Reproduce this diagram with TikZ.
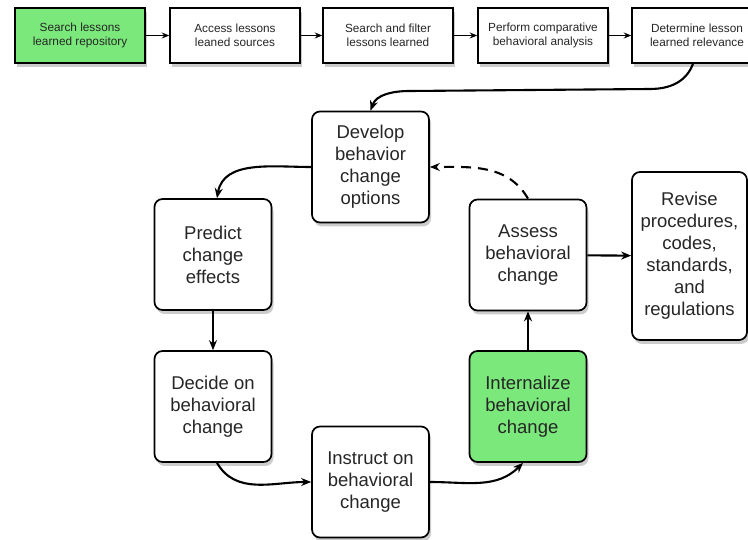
\documentclass[tikz,border=0pt]{standalone}
\usepackage{fontspec}
\setmainfont{Liberation Sans}
\usepackage{tikz}
\usetikzlibrary{
	positioning,
	arrows.meta,
	shadows
}
\definecolor{leafgreen}{RGB}{122,232,122}

\begin{document}
\begin{tikzpicture}[
		x=1pt, y=1pt,
		stage/.style={draw, line width=1.5pt, fill=white, text=black!85, align=center,
			minimum width=130pt, minimum height=55pt, inner sep=0pt,
			font=\fontsize{11.8}{14}\selectfont,
			drop shadow={shadow xshift=2pt, shadow yshift=-4pt, opacity=.4}},
		act/.style={stage, rounded corners=8pt, line width=1.7pt,
			minimum width=117pt, minimum height=111pt,
			font=\fontsize{18.5}{22}\selectfont},
		hot/.style={fill=leafgreen},
		link/.style={-{Stealth[length=7.5pt,width=6pt]}, line width=1.5pt},
		flow/.style={-{Stealth[length=10pt,width=8pt]}, line width=2.1pt},
	]
	\useasboundingbox (0,0) rectangle (748,539);

	\draw
		node[stage,hot] (t1) at (80,503.5)  {Search lessons\\learned repository}
		node[stage,right=23.5pt of t1]      (t2) {Access lessons\\leaned sources}
		node[stage,right=21.5pt of t2]      (t3) {Search and filter\\lessons learned}
		node[stage,right=23.5pt of t3]      (t4) {Perform comparative\\behavioral analysis}
		node[stage,right=22.5pt of t4]      (t5) {Determine lesson\\learned relevance}

		node[act]     (dev) at (370.5,372)  {Develop\\behavior\\change\\options}
		node[act]     (pre) at (213,284.5)  {Predict\\change\\effects}
		node[act]     (dec) at (213,132.5)  {Decide on\\behavioral\\change}
		node[act]     (ins) at (370.5,57)   {Instruct on\\behavioral\\change}
		node[act,hot] (int) at (528,132.5)  {Internalize\\behavioral\\change}
		node[act]     (ass) at (528,284)    {Assess\\behavioral\\change}
		node[act,minimum width=115pt,minimum height=168pt]
		              (rev) at (689.5,283)  {Revise\\procedures,\\codes,\\standards,\\and\\regulations}

		(t1) edge[link] (t2)
		(t2) edge[link] (t3)
		(t3) edge[link] (t4)
		(t4) edge[link] (t5)

		(dev.west)           edge[flow,out=180,in=80]   ([xshift=4pt]pre.north)
		(pre)                edge[flow]                 (dec)
		([xshift=4pt]dec.south) edge[flow,out=-60,in=180] (ins.west)
		(ins.east)           edge[flow,out=0,in=-135]   ([xshift=-5pt]int.south)
		(int)                edge[flow]                 (ass)
		(ass)                edge[flow]                 (rev)
		(ass.north)          edge[flow,dash pattern=on 10pt off 7pt,out=120,in=0] (dev.east)
	;

	% from the top row down into the loop
	\coordinate (bend) at (650,450);
	\coordinate (turn) at (410,448);
	\draw[flow] ([xshift=-4pt]t5.south) to[out=-110,in=0] (bend) -- (turn)
		to[out=180,in=70] (dev.north);
\end{tikzpicture}
\end{document}
